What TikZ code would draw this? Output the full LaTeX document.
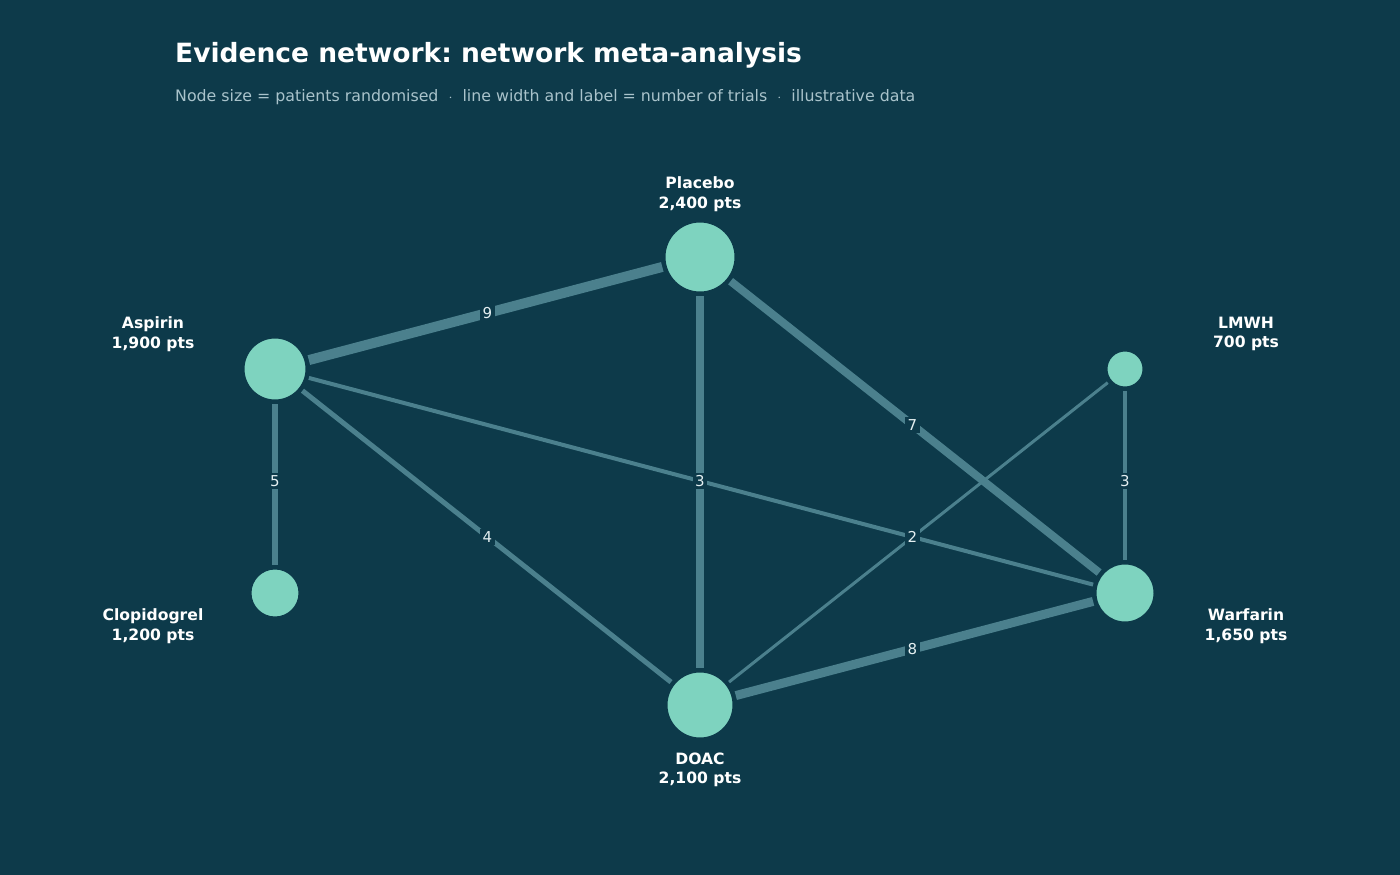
\documentclass[tikz,border=0pt]{standalone}
\usepackage{fontspec}
\setmainfont{DejaVu Sans}
\frenchspacing
\definecolor{bg}{HTML}{0D3A4A}
\definecolor{nodefill}{HTML}{7ED3BF}
\definecolor{edgecol}{HTML}{4B808D}
\definecolor{subcol}{HTML}{A9C3CB}
\definecolor{lblcol}{HTML}{E4EFF1}
\begin{document}
\begin{tikzpicture}[x=1pt,y=-1pt,
  trt/.style={circle,fill=nodefill,draw=bg,line width=3pt,inner sep=0pt,outer sep=3pt,minimum size=#1},
  namelbl/.style={align=center,font=\bfseries\fontsize{15.6}{19.5}\selectfont,text=white},
  link/.style={draw=edgecol,line width=#1},
  trials/.style={midway,fill=bg,inner sep=2.5pt,text=lblcol,font=\fontsize{15}{17}\selectfont}]
\fill[bg] (0,0) rectangle (1400,875);
\useasboundingbox (0,0) rectangle (1400,875);
\node[anchor=base west,text=white,font=\bfseries\fontsize{26.5}{31}\selectfont,inner sep=0pt] (title) at (175,62.5) {Evidence network: network meta-analysis};
\node[anchor=base west,text=subcol,font=\fontsize{15.8}{18}\selectfont,inner sep=0pt] (sub) at (175,101) {Node size = patients randomised \ $\cdot$\ \ line width and label = number of trials \ $\cdot$\ \ illustrative data};
% nodes
\node[trt=72pt] (plac) at (700,257) {};
\node[trt=64pt] (asp) at (275,369) {};
\node[trt=68pt] (doac) at (700,705) {};
\node[trt=60pt] (warf) at (1125,593) {};
\node[trt=50pt] (clop) at (275,593) {};
\node[trt=38pt] (lmwh) at (1125,369) {};
% edges
\draw[link=10pt] (asp) -- (plac);
\draw[link=8pt] (plac) -- (doac);
\draw[link=8pt] (plac) -- (warf);
\draw[link=6pt] (asp) -- (clop);
\draw[link=5pt] (asp) -- (doac);
\draw[link=4pt] (asp) -- (warf);
\draw[link=3pt] (lmwh) -- (doac);
\draw[link=4pt] (lmwh) -- (warf);
\draw[link=9pt] (doac) -- (warf);
% edge labels
\path (asp.center) -- (plac.center) node[trials] (l9) {9};
\path (plac.center) -- (warf.center) node[trials] (l7) {7};
\path (asp.center) -- (clop.center) node[trials] (l5) {5};
\path (asp.center) -- (doac.center) node[trials] (l4) {4};
\path (asp.center) -- (warf.center) node[trials] (l3a) {3};
\path (lmwh.center) -- (doac.center) node[trials] (l2) {2};
\path (lmwh.center) -- (warf.center) node[trials] (l3b) {3};
\path (doac.center) -- (warf.center) node[trials] (l8) {8};
% redraw nodes on top
\node[trt=72pt] at (plac) {};
\node[trt=64pt] at (asp) {};
\node[trt=68pt] at (doac) {};
\node[trt=60pt] at (warf) {};
\node[trt=50pt] at (clop) {};
\node[trt=38pt] at (lmwh) {};
% name labels
\node[namelbl] (tplac) at (700,194) {Placebo\\2,400 pts};
\node[namelbl] (tasp) at (153,334) {Aspirin\\1,900 pts};
\node[namelbl] (tlmwh) at (1246,334) {LMWH\\700 pts};
\node[namelbl] (tclop) at (153,626) {Clopidogrel\\1,200 pts};
\node[namelbl] (twarf) at (1246,626) {Warfarin\\1,650 pts};
\node[namelbl] (tdoac) at (700,770) {DOAC\\2,100 pts};
\end{tikzpicture}
\end{document}
